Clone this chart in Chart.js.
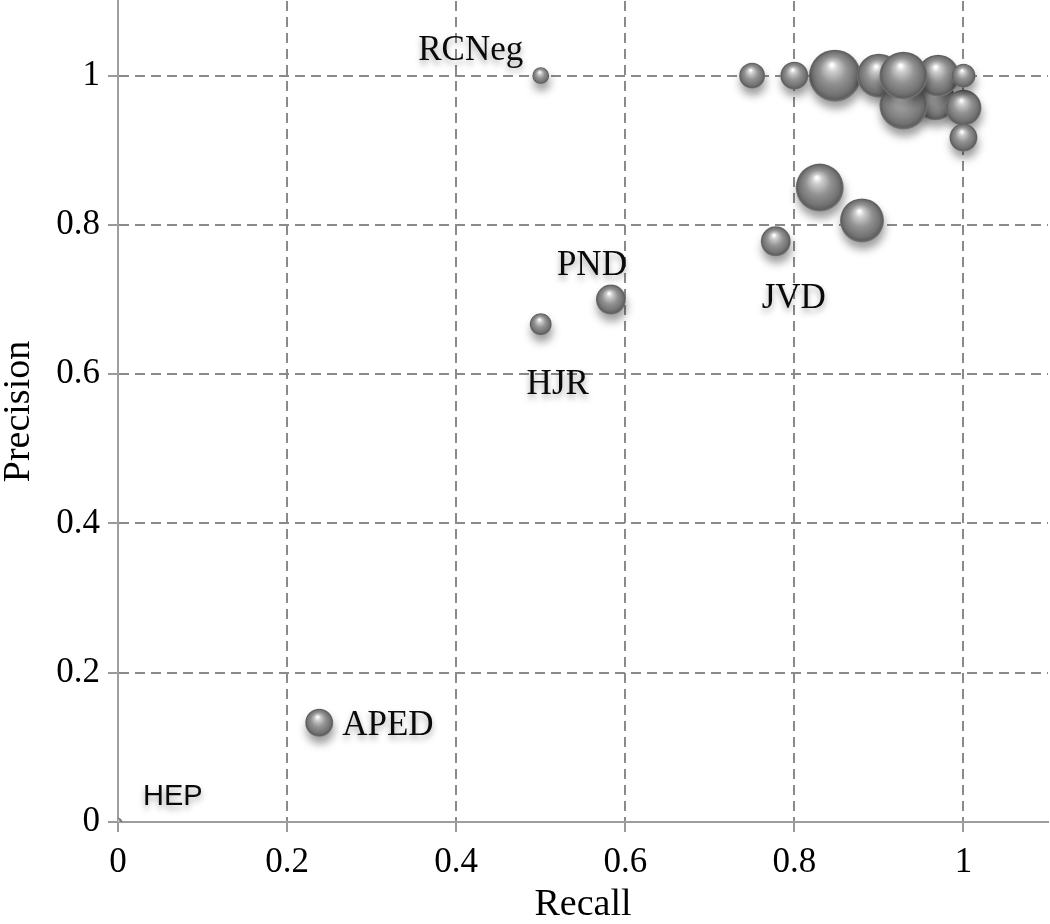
<!DOCTYPE html>
<html>
<head>
<meta charset="utf-8">
<script src="https://cdn.jsdelivr.net/npm/chart.js@4.4.1/dist/chart.umd.min.js"></script>
<style>
html,body{margin:0;padding:0;background:#ffffff;}
#wrap{width:1050px;height:924px;position:relative;}
</style>
</head>
<body>
<div id="wrap"><canvas id="c"></canvas></div>
<script>
// ---- data (draw order = array order) ----
const pointNames = ['', '', '', '', '', '', '', '', '', '', '', '', '', 'RCNeg', 'PND', 'HJR', 'JVD', 'APED', 'HEP'];
const recall     = [0.848, 0.967, 0.90, 0.97, 0.929, 0.929, 1.00, 1.00, 1.00, 0.83, 0.88, 0.75, 0.80, 0.50, 0.583, 0.50, 0.778, 0.238, 0.00];
const precision  = [1.00, 0.967, 1.00, 1.00, 0.96, 1.00, 0.957, 0.917, 1.00, 0.85, 0.806, 1.00, 1.00, 1.00, 0.70, 0.667, 0.778, 0.133, 0.00];
const bubbleSize = [169, 100, 121, 110, 144, 144, 81, 49, 36, 144, 121, 42, 49, 18, 56, 30, 56, 49, 4];
const tickValues = [0, 0.2, 0.4, 0.6, 0.8, 1];
const tickLabels = ['0', '0.2', '0.4', '0.6', '0.8', '1'];
const xTitle = 'Recall';
const yTitle = 'Precision';

// ---- build chart ----
const RADIUS_K = 2;
const points = recall.map((x, i) => ({ x: x, y: precision[i], r: Math.sqrt(bubbleSize[i]) * RADIUS_K, name: pointNames[i] }));

const SERIF = '"Liberation Serif"';
const labelPlacement = {
  RCNeg: { dx: -70, dy: -16, align: 'center', font: '35px ' + SERIF },
  PND:   { dx: -19, dy: -25, align: 'center', font: '35px ' + SERIF },
  HJR:   { dx: 17,  dy: 70,  align: 'center', font: '35px ' + SERIF },
  JVD:   { dx: 18,  dy: 67,  align: 'center', font: '35px ' + SERIF },
  APED:  { dx: 23,  dy: 12,  align: 'left',   font: '35px ' + SERIF },
  HEP:   { dx: 25,  dy: -17, align: 'left',   font: '29px "Liberation Sans"' }
};

function sphereFill(ctx) {
  const chart = ctx.chart;
  if (ctx.type !== 'data' || !chart.scales || !chart.scales.x || !chart.scales.y) return '#888888';
  const px = chart.scales.x.getPixelForValue(ctx.raw.x);
  const py = chart.scales.y.getPixelForValue(ctx.raw.y);
  const r = Math.max(ctx.raw.r, 1);
  if (!isFinite(px) || !isFinite(py)) return '#888888';
  const g = chart.ctx.createRadialGradient(px - r * 0.12, py - r * 0.42, r * 0.04, px, py, r);
  g.addColorStop(0, '#ffffff');
  g.addColorStop(0.18, '#cccccc');
  g.addColorStop(0.5, '#929292');
  g.addColorStop(0.82, '#727272');
  g.addColorStop(0.93, '#5e5e5e');
  g.addColorStop(1, '#7c7c7c');
  return g;
}

const shadowPlugin = {
  id: 'sphereShadow',
  beforeDatasetDraw(chart) {
    const c = chart.ctx;
    c.save();
    c.shadowColor = 'rgba(0,0,0,0.38)';
    c.shadowBlur = 9;
    c.shadowOffsetX = 1;
    c.shadowOffsetY = 7;
  },
  afterDatasetDraw(chart) {
    chart.ctx.restore();
  }
};

const labelPlugin = {
  id: 'pointNames',
  afterDatasetsDraw(chart) {
    const meta = chart.getDatasetMeta(0);
    const c = chart.ctx;
    meta.data.forEach((el, i) => {
      const name = chart.data.datasets[0].data[i].name;
      if (!name || !labelPlacement[name]) return;
      const p = labelPlacement[name];
      c.save();
      c.font = p.font;
      c.fillStyle = '#0a0a0a';
      c.textAlign = p.align;
      c.textBaseline = 'alphabetic';
      c.shadowColor = 'rgba(0,0,0,0.35)';
      c.shadowBlur = 6;
      c.shadowOffsetY = 4;
      c.fillText(name, el.x + p.dx, el.y + p.dy);
      c.restore();
    });
  }
};

function axisCommon(titleText) {
  return {
    type: 'linear',
    min: 0,
    max: 1.1,
    afterBuildTicks: s => { s.ticks = tickValues.map(v => ({ value: v })); },
    ticks: {
      includeBounds: false,
      color: '#000000',
      font: { family: SERIF, size: 35 },
      callback: (v) => { const i = tickValues.findIndex(t => Math.abs(t - v) < 1e-9); return i >= 0 ? tickLabels[i] : ''; }
    },
    grid: {
      color: '#8a8a8a',
      lineWidth: 2,
      drawTicks: true,
      tickLength: 10,
      tickColor: '#9a9a9a',
      tickWidth: 2,
      tickBorderDash: []
    },
    border: { display: true, color: '#9e9e9e', width: 2, dash: [10, 6] },
    title: {
      display: true,
      text: titleText,
      color: '#000000',
      font: { family: SERIF, size: 38, lineHeight: 1 },
      padding: 0
    }
  };
}

const xAxis = axisCommon(xTitle);
xAxis.position = 'bottom';
xAxis.ticks.padding = 10;
xAxis.afterFit = s => { s.height = 102; };
const yAxis = axisCommon(yTitle);
yAxis.position = 'left';
yAxis.ticks.padding = 8;
yAxis.afterFit = s => { s.width = 118; s.paddingTop = 0; s.paddingBottom = 0; };

new Chart(document.getElementById('c'), {
  type: 'bubble',
  data: {
    datasets: [{
      data: points,
      backgroundColor: sphereFill,
      borderWidth: 0,
      hoverBorderWidth: 0
    }]
  },
  options: {
    responsive: true,
    maintainAspectRatio: false,
    animation: false,
    layout: { autoPadding: false, padding: { top: 1, right: 2, left: 0, bottom: 0 } },
    plugins: { legend: { display: false }, tooltip: { enabled: false } },
    scales: { x: xAxis, y: yAxis }
  },
  plugins: [shadowPlugin, labelPlugin]
});
</script>
</body>
</html>
